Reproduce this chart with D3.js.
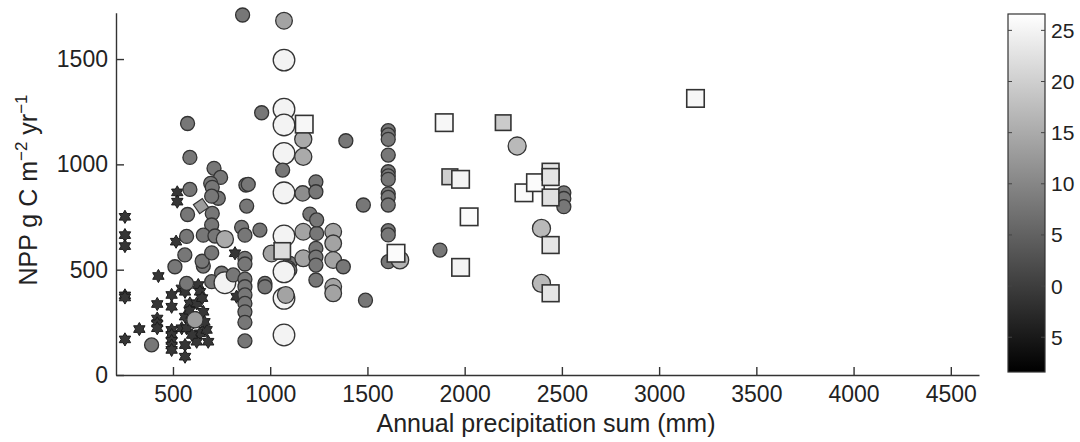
<!DOCTYPE html>
<html>
<head>
<meta charset="utf-8">
<script src="https://cdn.jsdelivr.net/npm/d3@7"></script>
<style>
  html, body { margin: 0; padding: 0; background: #fff; }
  svg { display: block; font-family: "Liberation Sans", Arial, Helvetica, sans-serif; }
</style>
</head>
<body>
<svg id="chart" width="1080" height="442"></svg>
<script>
// Site data: [annual precipitation (mm), NPP (g C m^-2 yr^-1), mean annual temperature (°C)]
const starSites = [
  [253,751,-1],[253,664,-1],[253,612,-1],[253,378,-1],[253,368,-1],[253,169,-1],
  [327,218,-1],[425,470,-1],[419,337,-1],[419,268,-1],[419,245,-1],[419,222,-1],
  [493,380,-1],[493,324,-1],[493,214,-1],[493,190,-1],[493,162,-1],[493,140,-1],[493,119,-1],
  [562,142,-1],[562,87,-1],[522,867,-1],[522,823,-1],[516,633,-1],[819,578,-1],[827,372,-1],
  [545,411,-1],[562,395,-1],[630,427,-1],[639,395,-1],[587,340,-1],[622,340,-1],
  [562,277,-1],[596,285,-1],[656,300,-1],[545,222,-1],[570,222,-1],
  [639,198,-1],[673,214,-1],[622,158,-1],[681,158,-1],[605,250,-1],[662,252,-1],
  [598,190,-1],[650,365,-1],[585,305,-1]
];

const circleSites = [
  [858,1709,8],[1071,1682,14],[1071,1495,25],[956,1245,8],[1071,1262,25],[1071,1187,25],
  [1170,1119,15],[1071,1052,25],[1170,1036,15],[1064,973,8],[1389,1112,8],
  [875,902,8],[887,905,8],[1071,865,25],[1167,862,11],[1235,917,8],[1235,870,8],
  [575,1194,8],[587,1033,8],[711,981,8],[745,938,8],[694,910,8],[702,891,8],[587,881,8],
  [733,839,8],[699,849,8],[879,802,8],[575,762,8],[702,767,8],[699,712,8],[853,701,8],
  [870,664,8],[570,658,8],[656,664,8],[716,660,8],[767,645,15],
  [561,570,8],[510,514,8],[656,517,8],[650,540,8],[699,580,8],[870,554,8],[870,527,8],
  [570,435,8],[699,443,8],[750,483,8],[767,438,25],[810,475,8],
  [870,455,8],[870,419,8],[870,380,8],[870,340,8],[870,300,8],[870,250,8],[870,162,8],
  [613,262,13],[390,143,8],
  [947,688,8],[1007,577,14],[1101,530,8],[1093,510,8],[1101,498,8],
  [1071,660,25],[1071,490,25],[1071,364,25],[1080,380,14],[1071,190,25],
  [1170,680,14],[1239,672,8],[1324,680,14],[1324,625,14],[1324,546,14],[1170,554,14],
  [1235,601,8],[1235,560,8],[1235,522,8],[1376,514,8],[973,435,8],[973,419,8],[1235,451,8],
  [1324,419,14],[1324,388,14],[1204,764,8],[1239,736,8],[1479,807,8],[1490,355,8],
  [1607,1160,8],[1607,1140,8],[1607,1119,8],[1607,1044,8],[1607,965,8],[1607,945,8],
  [1607,929,8],[1607,860,8],[1607,843,8],[1607,807,8],[1607,685,8],[1607,665,8],[1607,538,8],
  [1667,546,16],[1873,593,8],[2270,1087,17],
  [2510,865,8],[2510,838,8],[2510,799,8],[2395,696,17],[2395,435,17]
];

const diamondSites = [
  [644,802,13]
];

const squareSites = [
  [1175,1191,25.5],[1062,589,22],[1647,578,26],[1895,1198,25.5],[2198,1198,19.5],
  [1924,941,20],[1979,929,25],[2023,751,26],[1979,511,25],[2305,865,26],[2364,913,26],
  [2442,965,23],[2442,940,23],[2442,843,22.5],[2442,617,23],[2442,388,23],[3187,1313,25.5]
];

const xTicks = [500,1000,1500,2000,2500,3000,3500,4000,4500];
const yTicks = [0,500,1000,1500];
const colorTicks = [25,20,15,10,5,0,-5];
const colorTickLabels = ["25","20","15","10","5","0","5"];

const svg = d3.select("#chart");

const x = d3.scaleLinear().domain([207, 4645]).range([116, 979]);
const y = d3.scaleLinear().domain([0, 1720]).range([375, 12.7]);
const tempDomain = [-8.4, 26.6];
const gray = d3.scaleLinear().domain(tempDomain).range(["#000000", "#ffffff"]).clamp(true);
const radius = d3.scaleLinear().domain([8, 25]).range([7, 10.8]).clamp(true);

// Marker layers: stars, circles, diamond, squares
const plot = svg.append("g");

const hexagram = (R) => {
  const pts = d3.range(12).map(i => {
    const a = -Math.PI / 2 + i * Math.PI / 6;
    const r = i % 2 === 0 ? R : R / Math.sqrt(3);
    return [r * Math.cos(a), r * Math.sin(a)];
  });
  return d3.line()(pts) + "Z";
};

plot.append("g").selectAll("path").data(starSites).join("path")
  .attr("d", hexagram(6.6))
  .attr("transform", d => `translate(${x(d[0])},${y(d[1])})`)
  .attr("fill", d => gray(d[2]))
  .attr("stroke", "#1c1c1c")
  .attr("stroke-width", 1);

plot.append("g").selectAll("circle").data(circleSites).join("circle")
  .attr("cx", d => x(d[0]))
  .attr("cy", d => y(d[1]))
  .attr("r", d => radius(d[2]))
  .attr("fill", d => gray(d[2]))
  .attr("stroke", "#333")
  .attr("stroke-width", 1.3);

plot.append("g").selectAll("path").data(diamondSites).join("path")
  .attr("d", d3.symbol(d3.symbolDiamond2, 150)())
  .attr("transform", d => `translate(${x(d[0])},${y(d[1])}) rotate(10)`)
  .attr("fill", d => gray(d[2]))
  .attr("stroke", "#333")
  .attr("stroke-width", 1.2);

plot.append("g").selectAll("rect").data(squareSites).join("rect")
  .each(function(d) {
    const s = radius(d[2]) * 1.62;
    d3.select(this)
      .attr("x", x(d[0]) - s / 2)
      .attr("y", y(d[1]) - s / 2)
      .attr("width", s)
      .attr("height", s);
  })
  .attr("fill", d => gray(d[2]))
  .attr("stroke", "#333")
  .attr("stroke-width", 1.6);

// Axes with inward ticks
const xAxis = svg.append("g")
  .attr("transform", "translate(0,375)")
  .call(d3.axisBottom(x).tickValues(xTicks).tickSizeInner(-8).tickSizeOuter(0).tickPadding(11).tickFormat(d3.format("d")));
const yAxis = svg.append("g")
  .attr("transform", "translate(116,0)")
  .call(d3.axisLeft(y).tickValues(yTicks).tickSizeInner(-8).tickSizeOuter(0).tickPadding(8).tickFormat(d3.format("d")));

[xAxis, yAxis].forEach(a => {
  a.select(".domain").attr("stroke", "#333").attr("stroke-width", 1.4);
  a.selectAll(".tick line").attr("stroke", "#333").attr("stroke-width", 1.4);
  a.selectAll(".tick text").attr("fill", "#222").attr("font-size", 23)
    .attr("font-family", "'Liberation Sans', Arial, sans-serif");
});

// Axis titles
svg.append("text")
  .attr("x", 546).attr("y", 432)
  .attr("text-anchor", "middle")
  .attr("font-size", 25)
  .attr("fill", "#222")
  .text("Annual precipitation sum (mm)");

const yl = svg.append("text")
  .attr("transform", "translate(37,190) rotate(-90)")
  .attr("text-anchor", "middle")
  .attr("font-size", 25)
  .attr("fill", "#222");
yl.append("tspan").text("NPP g C m");
yl.append("tspan").attr("font-size", 17).attr("dy", -10).text("\u22122");
yl.append("tspan").attr("dy", 10).text(" yr");
yl.append("tspan").attr("font-size", 17).attr("dy", -10).text("\u22121");

// Colour bar
const cb = { x: 1008, w: 37 };
const cy = d3.scaleLinear().domain(tempDomain).range([372, 14]);
const defs = svg.append("defs");
const grad = defs.append("linearGradient").attr("id", "cbar")
  .attr("x1", 0).attr("y1", 1).attr("x2", 0).attr("y2", 0);
grad.append("stop").attr("offset", 0).attr("stop-color", gray(tempDomain[0]));
grad.append("stop").attr("offset", 1).attr("stop-color", gray(tempDomain[1]));

svg.append("rect")
  .attr("x", cb.x).attr("y", cy(tempDomain[1]))
  .attr("width", cb.w).attr("height", cy(tempDomain[0]) - cy(tempDomain[1]))
  .attr("fill", "url(#cbar)")
  .attr("stroke", "#333").attr("stroke-width", 1.2);

const cbt = svg.append("g");
colorTicks.forEach((t, i) => {
  const ty = cy(t);
  cbt.append("line").attr("x1", cb.x).attr("x2", cb.x + 4).attr("y1", ty).attr("y2", ty)
    .attr("stroke", "#444").attr("stroke-width", 1);
  cbt.append("line").attr("x1", cb.x + cb.w - 4).attr("x2", cb.x + cb.w).attr("y1", ty).attr("y2", ty)
    .attr("stroke", "#444").attr("stroke-width", 1);
  cbt.append("text").attr("x", cb.x + cb.w + 6).attr("y", ty).attr("dy", "0.36em")
    .attr("font-size", 21).attr("fill", "#222").text(colorTickLabels[i]);
});
</script>
</body>
</html>
